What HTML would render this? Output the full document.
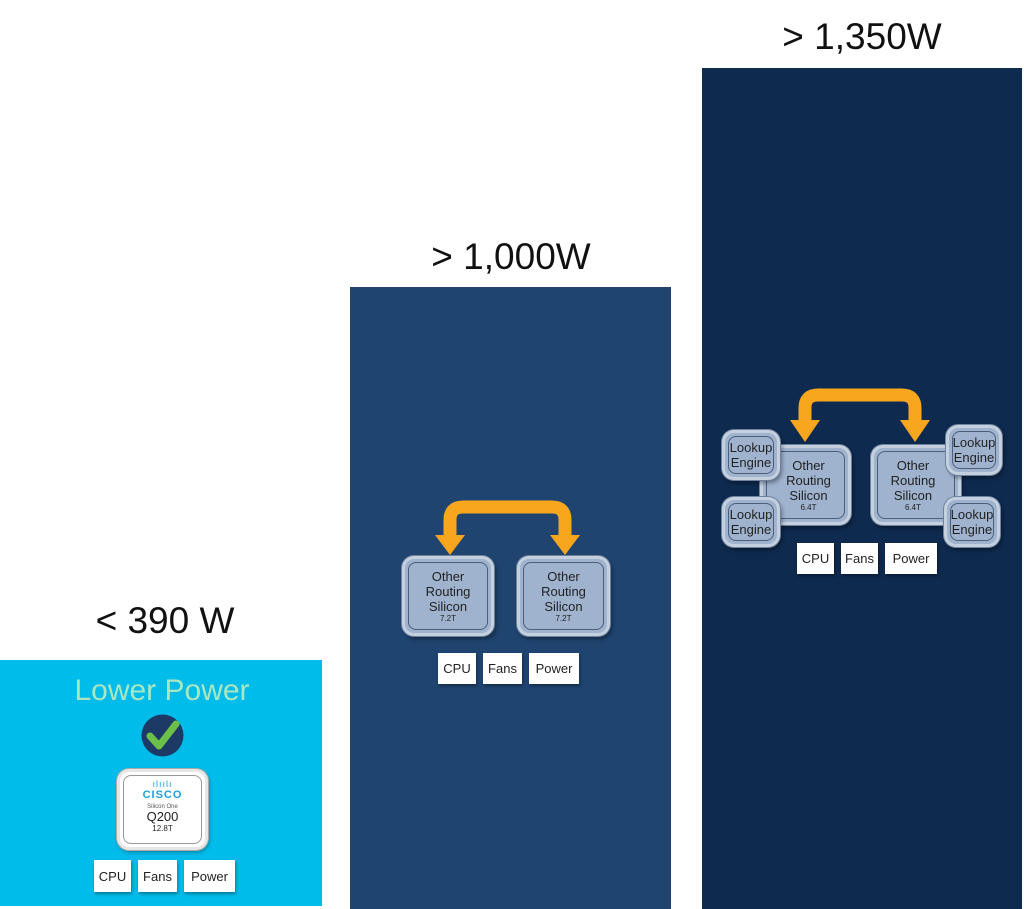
<!DOCTYPE html>
<html><head><meta charset="utf-8"><style>
body{margin:0;width:1024px;height:909px;background:#fff;position:relative;overflow:hidden;font-family:"Liberation Sans",sans-serif}
.a{position:absolute}
.t{position:absolute;font-size:37px;color:#111;text-align:center;width:300px}
.chip{position:absolute;box-sizing:border-box;border-radius:12px;background:#9fb3cf;border:3px solid #c5d0de;box-shadow:0 0 0 1px #6f83a0,2px 3px 4px rgba(0,0,0,.4)}
.chip>div{position:absolute;inset:3px;border:1px solid #4b5e7a;border-radius:8px;display:flex;flex-direction:column;align-items:center;justify-content:center;color:#222;font-size:13px;line-height:15px;text-align:center}
.chip small{font-size:8px;line-height:10px}
.b{position:absolute;background:#fff;font-size:13px;color:#222;display:flex;align-items:center;justify-content:center;box-shadow:1px 2px 3px rgba(0,0,0,.35)}
</style></head><body>
<div class="t" style="left:15px;top:600px">&lt; 390 W</div>
<div class="t" style="left:361px;top:236px">&gt; 1,000W</div>
<div class="t" style="left:712px;top:16px">&gt; 1,350W</div>

<div class="a" style="left:0;top:660px;width:322px;height:246px;background:#00bceb"></div>
<div class="a" style="left:350px;top:287px;width:321px;height:622px;background:#1f4470"></div>
<div class="a" style="left:702px;top:68px;width:320px;height:841px;background:#0f2a4f"></div>

<!-- panel 1 -->
<div class="a" style="left:0;top:674px;width:324px;text-align:center;font-size:30px;color:#a9e7c3">Lower Power</div>
<svg class="a" style="left:141px;top:714px" width="43" height="43"><circle cx="21.5" cy="21.5" r="21" fill="#1d3a66"/><path d="M9 22 L18 32 L35 10" fill="none" stroke="#6cc04a" stroke-width="7" stroke-linecap="round" stroke-linejoin="round"/></svg>
<div class="a" style="left:117px;top:769px;width:91px;height:81px;box-sizing:border-box;background:#fff;border:3px solid #e6e6e6;border-radius:12px;box-shadow:0 0 0 1px #aaa,1px 2px 4px rgba(0,0,0,.35)">
<div style="position:absolute;inset:3px;border:1px solid #999;border-radius:8px;text-align:center;color:#222">
<div style="color:#1ba0d7;font-size:9px;letter-spacing:1px;margin-top:4px;line-height:9px">ılıılı</div>
<div style="color:#1ba0d7;font-size:11px;font-weight:bold;letter-spacing:1px;line-height:12px">CISCO</div>
<div style="font-size:6px;margin-top:3px;color:#555">Silicon One</div>
<div style="font-size:13px;line-height:14px">Q200</div>
<div style="font-size:8px">12.8T</div></div></div>
<div class="b" style="left:94px;top:860px;width:37px;height:32px">CPU</div>
<div class="b" style="left:138px;top:860px;width:39px;height:32px">Fans</div>
<div class="b" style="left:184px;top:860px;width:51px;height:32px">Power</div>

<!-- panel 2 -->
<svg class="a" style="left:0;top:0" width="1024" height="909">
<g fill="none" stroke="#f8a61e" stroke-width="13" stroke-linejoin="round">
<path d="M450 540 V520 Q450 507 463 507 H552 Q565 507 565 520 V540"/>
<path d="M805 423 V408 Q805 395 818 395 H902 Q915 395 915 408 V423"/>
</g>
<g fill="#f8a61e">
<path d="M435 535 H465 L450 555 Z"/><path d="M550 535 H580 L565 555 Z"/>
<path d="M790 420 H820 L805 442 Z"/><path d="M900 420 H930 L915 442 Z"/>
</g></svg>
<div class="chip" style="left:402px;top:556px;width:92px;height:80px"><div>Other<br>Routing<br>Silicon<small>7.2T</small></div></div>
<div class="chip" style="left:517px;top:556px;width:93px;height:80px"><div>Other<br>Routing<br>Silicon<small>7.2T</small></div></div>
<div class="b" style="left:438px;top:653px;width:38px;height:31px">CPU</div>
<div class="b" style="left:483px;top:653px;width:39px;height:31px">Fans</div>
<div class="b" style="left:529px;top:653px;width:50px;height:31px">Power</div>

<!-- panel 3 -->
<div class="chip" style="left:760px;top:445px;width:91px;height:80px"><div style="padding-left:6px">Other<br>Routing<br>Silicon<small>6.4T</small></div></div>
<div class="chip" style="left:871px;top:445px;width:90px;height:80px"><div style="padding-right:6px">Other<br>Routing<br>Silicon<small>6.4T</small></div></div>
<div class="chip" style="left:722px;top:430px;width:58px;height:50px"><div>Lookup<br>Engine</div></div>
<div class="chip" style="left:722px;top:497px;width:58px;height:50px"><div>Lookup<br>Engine</div></div>
<div class="chip" style="left:946px;top:425px;width:56px;height:50px"><div>Lookup<br>Engine</div></div>
<div class="chip" style="left:944px;top:497px;width:56px;height:50px"><div>Lookup<br>Engine</div></div>
<div class="b" style="left:797px;top:543px;width:37px;height:31px">CPU</div>
<div class="b" style="left:841px;top:543px;width:37px;height:31px">Fans</div>
<div class="b" style="left:885px;top:543px;width:52px;height:31px">Power</div>
</body></html>
